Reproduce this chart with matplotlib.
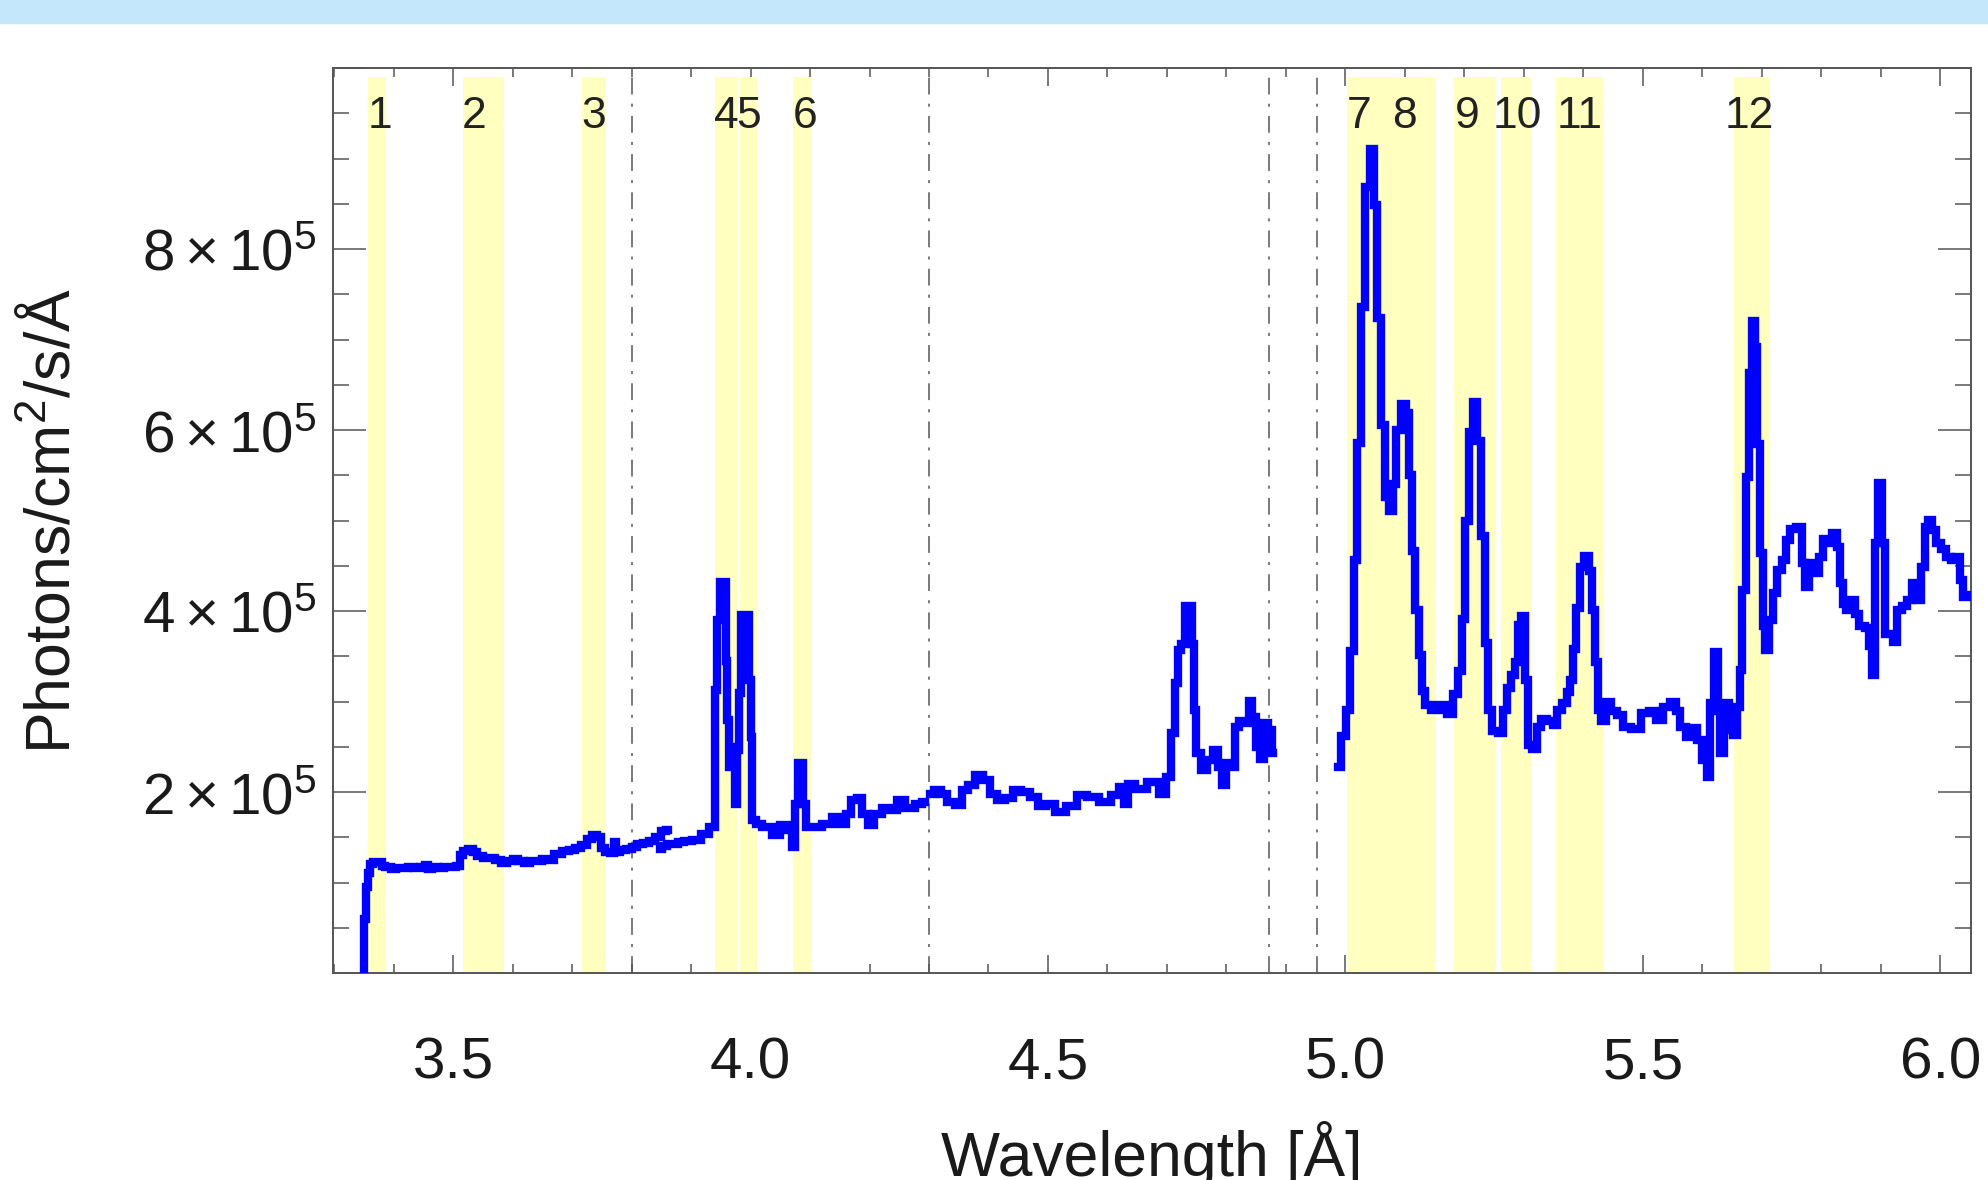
"""
Solar X-ray spectrum with the selected line windows shaded.
Writes out.png in the working directory.
"""

import matplotlib

matplotlib.use("Agg")
import matplotlib.pyplot as plt
from matplotlib.patches import Rectangle
from matplotlib.ticker import MultipleLocator, FixedLocator, FuncFormatter

# --- spectrum, one array pair per detector segment (flux in 1e3 photons/cm2/s/A) ---
seg1_wl = [3.350, 3.352, 3.355, 3.359, 3.362, 3.369, 3.378, 3.383, 3.390, 3.400,
           3.410, 3.420, 3.430, 3.440, 3.450, 3.455, 3.460, 3.470, 3.480, 3.490,
           3.500, 3.510, 3.515, 3.520, 3.530, 3.537, 3.545, 3.555, 3.565, 3.575,
           3.585, 3.595, 3.605, 3.615, 3.625, 3.635, 3.645, 3.655, 3.665, 3.675,
           3.690, 3.700, 3.710, 3.720, 3.730, 3.738, 3.745, 3.752, 3.760, 3.768,
           3.772, 3.776, 3.785, 3.795, 3.805, 3.815, 3.825, 3.835, 3.845, 3.855,
           3.862]
seg1_flux = [0, 60, 95, 110, 120, 123, 123, 118, 117, 115,
             116, 116, 117, 116, 117, 119, 115, 117, 116, 117,
             117, 118, 130, 135, 137, 134, 129, 127, 127, 125,
             122, 124, 126, 124, 121, 124, 124, 126, 125, 131,
             135, 136, 138, 141, 148, 152, 150, 138, 134, 133,
             145, 134, 136, 137, 139, 142, 144, 146, 150, 157,
             158]

seg2_wl = [3.848, 3.855, 3.865, 3.875, 3.882, 3.895, 3.910, 3.924, 3.938, 3.942,
           3.946, 3.950, 3.957, 3.960, 3.962, 3.965, 3.971, 3.976, 3.979, 3.982,
           3.987, 3.996, 3.999, 4.002, 4.004, 4.013, 4.027, 4.044, 4.055, 4.067,
           4.072, 4.077, 4.081, 4.086, 4.092, 4.095, 4.111, 4.128, 4.145, 4.156,
           4.164, 4.173, 4.184, 4.192, 4.203, 4.212, 4.229, 4.240, 4.251, 4.268,
           4.285, 4.293]
seg2_flux = [137, 140, 143, 143, 145, 146, 147, 154, 161, 313,
             390, 432, 432, 345, 280, 228, 250, 187, 246, 309,
             396, 396, 324, 261, 169, 165, 161, 152, 163, 158,
             139, 187, 232, 232, 187, 161, 161, 165, 172, 165,
             176, 191, 193, 176, 163, 176, 182, 180, 191, 182,
             187, 189]

seg3_wl = [4.301, 4.315, 4.326, 4.335, 4.352, 4.360, 4.371, 4.385, 4.396, 4.410,
           4.419, 4.436, 4.447, 4.463, 4.477, 4.491, 4.503, 4.519, 4.542, 4.556,
           4.575, 4.598, 4.615, 4.623, 4.632, 4.637, 4.654, 4.679, 4.693, 4.705,
           4.710, 4.716, 4.721, 4.727, 4.732, 4.741, 4.744, 4.747, 4.752, 4.761,
           4.772, 4.781, 4.789, 4.795, 4.803, 4.812, 4.817, 4.826, 4.834, 4.840,
           4.845, 4.854, 4.859, 4.868, 4.873, 4.879]
seg3_flux = [198, 202, 198, 189, 186, 202, 208, 219, 213, 198,
             191, 193, 202, 200, 195, 184, 187, 178, 184, 197,
             195, 189, 197, 206, 187, 209, 203, 211, 198, 217,
             265, 320, 357, 364, 405, 405, 364, 291, 243, 224,
             235, 246, 228, 208, 232, 228, 272, 279, 276, 301,
             283, 250, 237, 276, 268, 243]

seg4_wl = [4.988, 4.996, 5.005, 5.011, 5.016, 5.022, 5.029, 5.036, 5.045, 5.050,
           5.057, 5.064, 5.069, 5.078, 5.083, 5.088, 5.097, 5.106, 5.108, 5.114,
           5.121, 5.125, 5.131, 5.136, 5.150, 5.164, 5.176, 5.187, 5.192, 5.198,
           5.203, 5.211, 5.218, 5.225, 5.232, 5.237, 5.243, 5.249, 5.263, 5.268,
           5.274, 5.281, 5.288, 5.291, 5.299, 5.304, 5.309, 5.319, 5.324, 5.333,
           5.344, 5.352, 5.358, 5.369, 5.374, 5.380, 5.385, 5.391, 5.398, 5.405,
           5.412, 5.417, 5.422, 5.426, 5.433, 5.442, 5.450, 5.461, 5.472, 5.489,
           5.503, 5.517, 5.528, 5.540, 5.551, 5.559, 5.567, 5.579, 5.587, 5.596,
           5.604, 5.610, 5.616, 5.623, 5.628, 5.632, 5.641, 5.647, 5.655, 5.661,
           5.664, 5.670, 5.675, 5.680, 5.685, 5.690, 5.694, 5.700, 5.703, 5.708,
           5.715, 5.722, 5.729, 5.737, 5.744, 5.750, 5.764, 5.770, 5.775, 5.784,
           5.792, 5.800, 5.806, 5.814, 5.823, 5.828, 5.834, 5.838, 5.845, 5.853,
           5.859, 5.867, 5.878, 5.882, 5.887, 5.892, 5.899, 5.906, 5.909, 5.917,
           5.925, 5.930, 5.940, 5.948, 5.955, 5.965, 5.971, 5.976, 5.982, 5.989,
           5.996, 6.005, 6.013, 6.021, 6.030, 6.035, 6.041, 6.049]
seg4_flux = [228, 262, 291, 356, 456, 586, 736, 868, 911, 849,
             724, 605, 526, 511, 540, 600, 629, 619, 550, 466,
             401, 351, 312, 296, 291, 296, 286, 308, 334, 391,
             499, 598, 631, 588, 483, 365, 291, 267, 265, 291,
             315, 329, 344, 384, 394, 324, 252, 248, 272, 281,
             279, 274, 291, 298, 310, 324, 358, 403, 449, 461,
             444, 401, 344, 291, 279, 300, 289, 285, 272, 270,
             287, 290, 280, 294, 299, 290, 272, 261, 271, 258,
             235, 217, 298, 355, 290, 243, 298, 268, 263, 294,
             335, 423, 548, 663, 720, 692, 585, 464, 383, 357,
             390, 420, 445, 456, 478, 491, 493, 453, 427, 453,
             442, 460, 480, 475, 486, 471, 431, 408, 401, 412,
             397, 383, 381, 361, 329, 475, 541, 475, 375, 375,
             366, 401, 405, 412, 431, 412, 449, 493, 501, 490,
             475, 469, 460, 456, 460, 434, 416, 418]

# --- line windows ---
band_ids = ["1", "2", "3", "4", "5", "6", "7", "8", "9", "10", "11", "12"]
band_lo = [3.357, 3.516, 3.716, 3.941, 3.982, 4.071, 5.002, 5.075, 5.182, 5.262, 5.353, 5.653]
band_hi = [3.388, 3.586, 3.755, 3.977, 4.011, 4.101, 5.075, 5.152, 5.253, 5.312, 5.433, 5.714]
label_wl = [3.377, 3.536, 3.736, 3.959, 3.997, 4.092, 5.023, 5.099, 5.205, 5.289, 5.393, 5.678]

# detector boundaries
boundary_wl = [3.80, 4.30, 4.872, 4.952]

FONT = "Liberation Sans"


def sci_label(v, pos):
    # only 2..8 x 10^5 carry a label
    if v <= 0 or v >= 9.5e5:
        return ""
    return r"$%d\times10^{5}$" % round(v / 1e5)


def main():
    plt.rcParams.update({
        "font.family": [FONT, "DejaVu Sans"],
        "mathtext.fontset": "custom",
        "mathtext.rm": FONT,
        "mathtext.it": FONT + ":italic",
        "mathtext.bf": FONT + ":bold",
        "axes.edgecolor": "#555555",
        "axes.linewidth": 1.4,
    })

    fig = plt.figure(figsize=(19.88, 11.8), dpi=100)
    # light blue strip along the top edge
    fig.patches.append(Rectangle((0, 1 - 23 / 1180), 1, 23 / 1180,
                                 transform=fig.transFigure, color="#c4e7fc", zorder=0))

    ax = fig.add_axes([333 / 1988, 1 - 973 / 1180, 1638 / 1988, 905 / 1180])
    ax.set_axisbelow(True)

    for lo, hi in zip(band_lo, band_hi):
        ax.axvspan(lo, hi, ymin=0, ymax=0.99, color="#ffffc0", lw=0, zorder=1)

    for wl in boundary_wl:
        ax.axvline(wl, color="#555555", lw=1.1, ls=(0, (11, 6, 2, 6)), zorder=1.5)

    for wl, fl in [(seg1_wl, seg1_flux), (seg2_wl, seg2_flux),
                   (seg3_wl, seg3_flux), (seg4_wl, seg4_flux)]:
        ax.plot(wl, [f * 1e3 for f in fl], color="#0000ff", lw=6,
                drawstyle="steps-mid", solid_joinstyle="miter", zorder=3)

    for name, wl in zip(band_ids, label_wl):
        ax.text(wl, 9.46e5, name, ha="center", va="center", fontsize=32,
                color="#222222", zorder=4)

    ax.set_xlim(3.2983, 6.0513)
    ax.set_ylim(0, 1.0e6)

    ax.xaxis.set_major_locator(FixedLocator([3.5, 4.0, 4.5, 5.0, 5.5, 6.0]))
    ax.xaxis.set_minor_locator(MultipleLocator(0.1))
    ax.xaxis.set_major_formatter(FuncFormatter(lambda v, p: f"{v:.1f}"))
    ax.yaxis.set_major_locator(MultipleLocator(2e5))
    ax.yaxis.set_minor_locator(MultipleLocator(0.5e5))
    ax.yaxis.set_major_formatter(FuncFormatter(sci_label))

    ax.tick_params(which="both", direction="in", top=True, right=True,
                   color="#555555", width=1.1, labelcolor="#1a1a1a")
    ax.tick_params(axis="x", which="major", length=13, pad=46, labelsize=42)
    ax.tick_params(axis="x", which="minor", length=6.5)
    ax.tick_params(axis="y", which="major", length=24, pad=12, labelsize=42)
    ax.tick_params(axis="y", which="minor", length=11.5)

    ax.set_xlabel("Wavelength [Å]", fontsize=45, color="#1a1a1a")
    ax.xaxis.set_label_coords(0.5, -0.163)
    ax.set_ylabel(r"Photons/cm$^{2}$/s/Å", fontsize=45, color="#1a1a1a")
    ax.yaxis.set_label_coords(-0.153, 0.5)

    fig.savefig("out.png", dpi=100)
    plt.close(fig)


if __name__ == "__main__":
    main()
